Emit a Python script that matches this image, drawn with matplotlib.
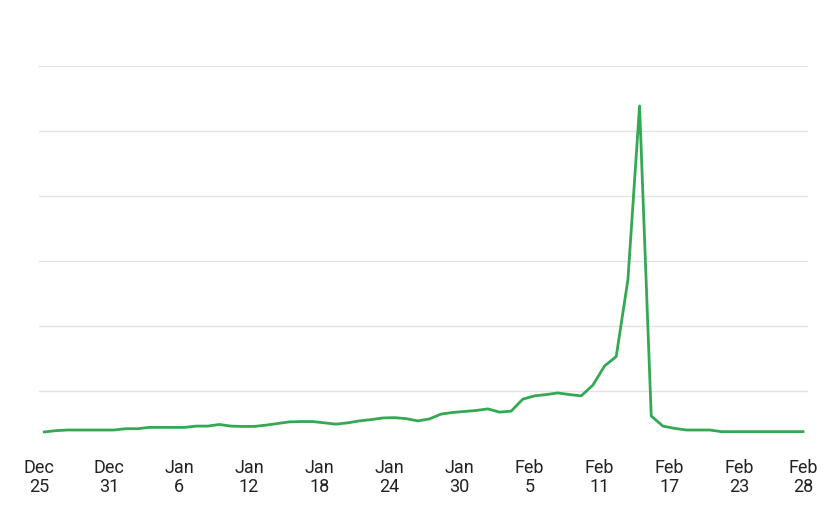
import matplotlib
matplotlib.use("Agg")
import matplotlib.pyplot as plt
import numpy as np

# Daily values, Dec 25 -> Feb 28 (66 days)
values = [7.4, 7.8, 8.0, 8.0, 8.0, 8.0, 8.0, 8.4, 8.4, 8.8,
          8.8, 8.8, 8.8, 9.2, 9.2, 9.7, 9.2, 9.1, 9.1, 9.5,
          10.0, 10.5, 10.6, 10.6, 10.2, 9.8, 10.2, 10.8, 11.2, 11.7,
          11.8, 11.5, 10.8, 11.4, 12.9, 13.4, 13.7, 14.0, 14.5, 13.5,
          13.8, 17.5, 18.5, 18.9, 19.4, 18.9, 18.5, 21.8, 27.7, 30.6,
          54.2, 107.7, 12.3, 9.2, 8.5, 8.0, 8.0, 8.0, 7.5, 7.5,
          7.5, 7.5, 7.5, 7.5, 7.5, 7.5]
tick_days = [0, 6, 12, 18, 24, 30, 36, 42, 48, 54, 60, 65]
tick_labels = ["Dec\n25", "Dec\n31", "Jan\n6", "Jan\n12", "Jan\n18", "Jan\n24",
               "Jan\n30", "Feb\n5", "Feb\n11", "Feb\n17", "Feb\n23", "Feb\n28"]
grid_levels = [20, 40, 60, 80, 100, 120]

W, H = 832, 511
fig = plt.figure(figsize=(W / 100, H / 100), dpi=100)
ax = fig.add_axes([39 / W, (H - 456) / H, (808 - 39) / W, 390 / H])

x = np.arange(len(values))
ax.plot(x, values, color="#34a853", lw=2.0, solid_joinstyle="round", zorder=3)

for g in grid_levels:
    ax.axhline(g, color="#e3e3e3", lw=1.0, zorder=1)

ax.set_xlim(-0.43, 65.43)
ax.set_ylim(0, 120)
ax.set_yticks([])
tick_pos = [d - 0.45 if d != 65 else d for d in tick_days]
ax.set_xticks(tick_pos)
ax.set_xticklabels(tick_labels, fontfamily="Roboto", fontsize=13,
                   color="#222222", linespacing=1.1)
ax.tick_params(axis="x", length=0, pad=2)
for s in ax.spines.values():
    s.set_visible(False)

fig.savefig("out.png", dpi=100)
